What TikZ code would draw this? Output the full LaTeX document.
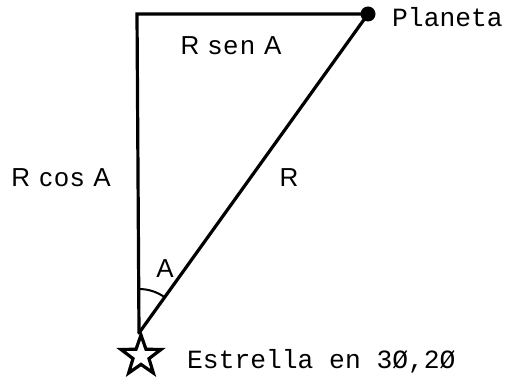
\documentclass[tikz,border=0pt]{standalone}
\usepackage{fontspec}
\setmainfont{Liberation Sans}[LetterSpace=8]
\newfontfamily\monofont{Liberation Mono}
\usetikzlibrary{shapes.geometric}

\begin{document}
\begin{tikzpicture}[
    x=1pt, y=-1pt,
    sidelabel/.style={font=\fontsize{26}{30}\selectfont, inner sep=0pt, anchor=base},
    namelabel/.style={font=\monofont\fontsize{26.3}{30}\selectfont, inner sep=0pt, anchor=base west},
    planetdot/.style={circle, fill=black, minimum size=15pt, inner sep=0pt},
    starmark/.style={star, star points=5, star point ratio=2.5, draw, fill=white, line width=3.2pt, minimum size=42pt, inner sep=0pt},
    sideline/.style={line width=3.2pt, line cap=round, line join=miter}
]
  \useasboundingbox (0,0) rectangle (509,377);

  % Nodes
  \node (star) [starmark] at (141,356) {};
  \coordinate (vertex) at (139,333);
  \coordinate (corner) at (137,14);
  \node (planet) [planetdot] at (368,14) {};

  \node (planetname) [namelabel] at (392,27) {Planeta};
  \node (starname) [namelabel] at (187,368) {Estrella en 3Ø,2Ø};
  \node (sinlabel) [sidelabel] at (231,55) {R sen A};
  \node (coslabel) [sidelabel] at (61,186) {R cos A};
  \node (radlabel) [sidelabel] at (289,186) {R};
  \node (anglabel) [sidelabel] at (165,277) {A};

  % Lines
  \draw [sideline] (vertex) -- (corner) -- (planet.center);
  \draw [sideline] (vertex) -- (planet.center);
  \draw [line width=2pt] (vertex) ++(-90:44) arc[start angle=-90, end angle=-54.3, radius=44];
\end{tikzpicture}
\end{document}
